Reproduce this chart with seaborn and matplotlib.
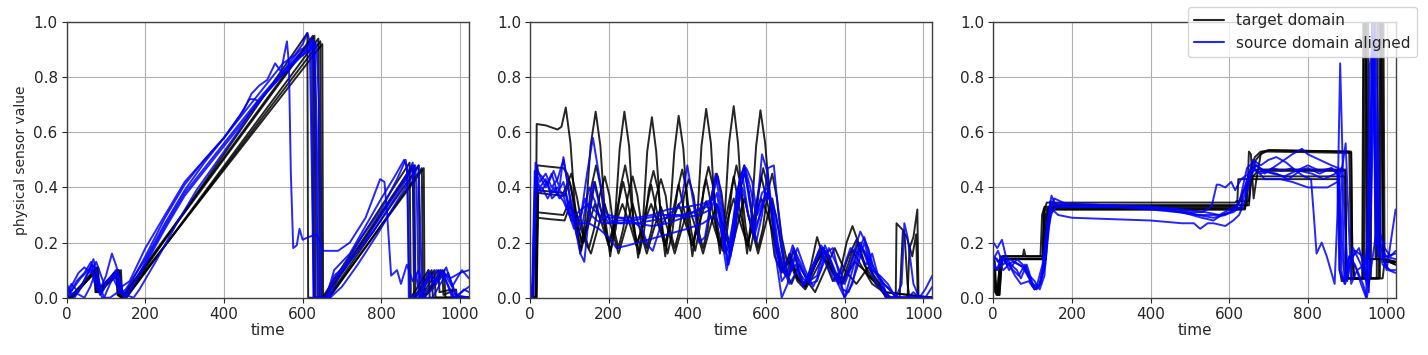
import matplotlib
matplotlib.use("Agg")
import matplotlib.pyplot as plt
from matplotlib.lines import Line2D
import pandas as pd
import seaborn as sns

# ---------------- data ----------------
legend_labels = ["target domain", "source domain aligned"]
x_ticks = [0, 200, 400, 600, 800, 1000]
y_ticks = [0.0, 0.2, 0.4, 0.6, 0.8, 1.0]

# panel 1 : target domain
p1_target_x = [
    [0, 8, 76, 79, 133, 136, 148, 612, 614, 650, 872, 875, 920, 923, 1023],
    [0, 12, 72, 75, 128, 131, 141, 630, 633, 658, 884, 887, 935, 938, 1023],
    [0, 15, 80, 83, 138, 141, 152, 640, 643, 664, 895, 898, 945, 948, 980, 983, 1023],
    [0, 10, 78, 81, 135, 138, 150, 645, 648, 668, 903, 906, 955, 958, 990, 993, 1023],
    [0, 14, 74, 77, 131, 134, 146, 650, 652, 666, 908, 910, 960, 963, 1023],
    [0, 6, 70, 73, 126, 129, 139, 626, 629, 654, 880, 883, 928, 931, 1023],
]
p1_target_y = [
    [0.0, 0.0, 0.11, 0.02, 0.10, 0.01, 0.0, 0.96, 0.0, 0.0, 0.49, 0.0, 0.10, 0.0, 0.0],
    [0.0, 0.0, 0.10, 0.02, 0.10, 0.01, 0.0, 0.95, 0.0, 0.0, 0.48, 0.0, 0.10, 0.0, 0.0],
    [0.0, 0.0, 0.11, 0.02, 0.10, 0.01, 0.0, 0.94, 0.0, 0.0, 0.48, 0.0, 0.10, 0.02, 0.03, 0.0, 0.0],
    [0.0, 0.0, 0.10, 0.02, 0.09, 0.01, 0.0, 0.93, 0.0, 0.0, 0.47, 0.0, 0.10, 0.01, 0.03, 0.0, 0.0],
    [0.0, 0.0, 0.10, 0.02, 0.10, 0.01, 0.0, 0.92, 0.0, 0.0, 0.47, 0.0, 0.10, 0.0, 0.0],
    [0.0, 0.0, 0.09, 0.02, 0.09, 0.01, 0.0, 0.95, 0.0, 0.0, 0.48, 0.0, 0.10, 0.0, 0.0],
]
# panel 1 : source domain aligned
p1_source_x = [
    [0, 10, 25, 45, 62, 70, 85, 100, 115, 125, 140, 160, 200, 250, 300, 350, 400, 450, 470, 490,
     510, 530, 545, 553, 560, 565, 570, 576, 585, 592, 600, 615, 635, 645, 652, 690, 720, 760, 797, 808,
     815, 825, 840, 850, 865, 880, 895, 910, 930, 950, 975, 1000, 1023],
    [0, 15, 35, 55, 65, 75, 90, 110, 125, 140, 150, 200, 250, 300, 350, 400, 450, 500, 550, 580,
     600, 612, 618, 624, 628, 660, 670, 700, 750, 800, 840, 862, 866, 870, 900, 920, 940, 960, 980, 1000, 1023],
    [0, 20, 40, 55, 68, 80, 95, 110, 130, 145, 160, 200, 250, 300, 350, 400, 450, 500, 550, 590,
     610, 625, 632, 638, 665, 680, 720, 760, 800, 840, 870, 880, 885, 900, 920, 945, 965, 990, 1010, 1023],
    [0, 12, 30, 50, 60, 72, 85, 105, 120, 135, 150, 200, 250, 300, 350, 400, 450, 500, 550, 600,
     620, 630, 636, 640, 668, 690, 730, 780, 820, 860, 886, 890, 895, 930, 950, 970, 990, 1023],
    [0, 20, 45, 60, 70, 90, 110, 130, 150, 170, 185, 230, 280, 330, 380, 430, 480, 530, 580, 620,
     635, 642, 647, 670, 700, 740, 790, 840, 875, 895, 900, 905, 930, 960, 980, 1005, 1023],
    [0, 15, 30, 45, 60, 75, 95, 115, 135, 150, 200, 250, 300, 350, 400, 440, 465, 478, 490, 510,
     540, 570, 595, 610, 622, 628, 660, 680, 720, 760, 800, 830, 858, 866, 872, 900, 920, 935, 950, 965,
     985, 1023],
]
p1_source_y = [
    [0.05, 0.02, 0.06, 0.09, 0.13, 0.08, 0.03, 0.08, 0.16, 0.12, 0.04, 0.06, 0.18, 0.30, 0.42, 0.50, 0.58, 0.68, 0.74, 0.77,
     0.79, 0.85, 0.82, 0.88, 0.93, 0.85, 0.45, 0.18, 0.19, 0.25, 0.21, 0.22, 0.23, 0.20, 0.17, 0.17, 0.20, 0.29, 0.43, 0.42,
     0.30, 0.08, 0.10, 0.05, 0.12, 0.06, 0.10, 0.02, 0.05, 0.10, 0.07, 0.09, 0.10],
    [0.0, 0.03, 0.07, 0.10, 0.12, 0.10, 0.02, 0.07, 0.10, 0.02, 0.03, 0.14, 0.27, 0.39, 0.49, 0.58, 0.67, 0.76, 0.85, 0.88,
     0.92, 0.96, 0.93, 0.40, 0.0, 0.0, 0.05, 0.10, 0.22, 0.32, 0.43, 0.50, 0.45, 0.0, 0.02, 0.06, 0.10, 0.08, 0.0, 0.0, 0.0],
    [0.03, 0.0, 0.05, 0.09, 0.14, 0.06, 0.0, 0.05, 0.10, 0.0, 0.02, 0.13, 0.26, 0.38, 0.47, 0.56, 0.65, 0.74, 0.82, 0.88,
     0.90, 0.94, 0.80, 0.0, 0.0, 0.08, 0.13, 0.21, 0.30, 0.39, 0.46, 0.49, 0.10, 0.0, 0.08, 0.06, 0.11, 0.0, 0.03, 0.02],
    [0.02, 0.05, 0.02, 0.08, 0.11, 0.05, 0.01, 0.06, 0.09, 0.03, 0.0, 0.12, 0.25, 0.37, 0.46, 0.55, 0.64, 0.73, 0.81, 0.88,
     0.91, 0.93, 0.60, 0.0, 0.0, 0.07, 0.15, 0.24, 0.33, 0.42, 0.48, 0.40, 0.0, 0.0, 0.05, 0.09, 0.01, 0.0],
    [0.0, 0.02, 0.0, 0.04, 0.08, 0.0, 0.0, 0.02, 0.01, 0.0, 0.03, 0.14, 0.27, 0.39, 0.49, 0.59, 0.70, 0.78, 0.86, 0.90,
     0.92, 0.70, 0.0, 0.0, 0.04, 0.12, 0.23, 0.35, 0.43, 0.48, 0.20, 0.0, 0.03, 0.09, 0.04, 0.10, 0.07],
    [0.0, 0.05, 0.09, 0.11, 0.09, 0.13, 0.05, 0.08, 0.02, 0.02, 0.15, 0.29, 0.41, 0.50, 0.58, 0.66, 0.72, 0.72, 0.71, 0.75,
     0.80, 0.86, 0.90, 0.91, 0.93, 0.0, 0.0, 0.10, 0.16, 0.26, 0.36, 0.43, 0.50, 0.47, 0.0, 0.0, 0.10, 0.05, 0.10, 0.06,
     0.0, 0.04],
]

# panel 2 : target domain
p2_target_x = [
    [0, 14, 17, 40, 70, 80, 91, 103, 116, 128, 141, 154, 167, 179, 191, 204, 216, 228, 240, 252,
     263, 275, 287, 298, 310, 321, 333, 344, 355, 367, 378, 390, 402, 413, 425, 436, 448, 460, 471, 483,
     495, 506, 518, 529, 541, 552, 563, 575, 586, 598, 610, 622, 635, 650, 665, 680, 700, 715, 730, 745,
     770, 790, 805, 820, 835, 860, 890, 905, 930, 932, 945, 952, 960, 965, 1023],
    [0, 15, 19, 50, 85, 95, 105, 118, 130, 142, 155, 168, 180, 192, 205, 218, 230, 242, 254, 266,
     278, 290, 302, 314, 326, 338, 350, 362, 375, 387, 398, 409, 420, 431, 442, 454, 466, 478, 490, 502,
     514, 525, 537, 549, 560, 571, 582, 593, 605, 617, 630, 645, 660, 680, 700, 720, 740, 760, 785, 810,
     830, 850, 880, 900, 915, 960, 965, 975, 985, 988, 1023],
    [0, 16, 20, 50, 85, 105, 120, 135, 150, 163, 177, 190, 202, 213, 225, 237, 249, 261, 273, 285,
     297, 309, 321, 333, 345, 356, 368, 380, 392, 404, 416, 428, 440, 452, 463, 475, 487, 498, 510, 522,
     533, 545, 557, 568, 580, 592, 604, 616, 628, 640, 655, 670, 690, 705, 725, 745, 770, 795, 815, 835,
     855, 875, 895, 910, 940, 948, 958, 972, 982, 986, 1023],
    [0, 14, 18, 50, 85, 100, 117, 135, 150, 165, 182, 200, 218, 235, 253, 270, 290, 308, 325, 343,
     360, 378, 395, 413, 430, 448, 465, 483, 500, 518, 535, 553, 570, 588, 605, 620, 640, 660, 680, 700,
     720, 745, 775, 800, 825, 850, 880, 900, 1023],
    [0, 15, 19, 50, 88, 100, 120, 138, 155, 172, 190, 208, 225, 243, 261, 279, 297, 315, 333, 350,
     368, 386, 404, 422, 440, 457, 475, 492, 510, 527, 545, 562, 580, 598, 616, 632, 648, 665, 685, 705,
     725, 750, 775, 800, 830, 860, 885, 905, 1023],
    [0, 17, 21, 50, 88, 100, 115, 130, 148, 165, 183, 200, 218, 237, 255, 272, 290, 308, 326, 343,
     360, 378, 396, 413, 430, 448, 466, 483, 500, 518, 536, 553, 570, 588, 606, 622, 640, 660, 680, 700,
     725, 750, 770, 795, 820, 845, 870, 890, 910, 1023],
]
p2_target_y = [
    [0.0, 0.0, 0.63, 0.625, 0.61, 0.62, 0.69, 0.56, 0.29, 0.16, 0.29, 0.55, 0.675, 0.55, 0.29, 0.15, 0.28, 0.54, 0.675, 0.55,
     0.28, 0.145, 0.27, 0.53, 0.655, 0.53, 0.28, 0.15, 0.28, 0.53, 0.66, 0.54, 0.28, 0.15, 0.28, 0.55, 0.685, 0.56, 0.29, 0.16,
     0.29, 0.56, 0.695, 0.56, 0.29, 0.16, 0.29, 0.55, 0.68, 0.56, 0.35, 0.20, 0.12, 0.08, 0.14, 0.08, 0.04, 0.12, 0.22, 0.15,
     0.06, 0.10, 0.20, 0.26, 0.20, 0.08, 0.04, 0.0, 0.0, 0.27, 0.25, 0.24, 0.05, 0.0, 0.0],
    [0.0, 0.0, 0.48, 0.475, 0.47, 0.45, 0.40, 0.25, 0.17, 0.245, 0.395, 0.48, 0.40, 0.25, 0.17, 0.25, 0.40, 0.48, 0.39, 0.24,
     0.16, 0.24, 0.39, 0.46, 0.39, 0.24, 0.16, 0.24, 0.39, 0.465, 0.39, 0.25, 0.17, 0.25, 0.40, 0.475, 0.40, 0.25, 0.17, 0.25,
     0.40, 0.48, 0.40, 0.25, 0.17, 0.25, 0.39, 0.47, 0.40, 0.30, 0.18, 0.10, 0.16, 0.07, 0.04, 0.10, 0.16, 0.12, 0.05, 0.15,
     0.21, 0.12, 0.05, 0.03, 0.0, 0.0, 0.18, 0.22, 0.32, 0.0, 0.0],
    [0.0, 0.0, 0.39, 0.385, 0.38, 0.45, 0.36, 0.24, 0.18, 0.25, 0.37, 0.44, 0.37, 0.25, 0.18, 0.25, 0.37, 0.44, 0.37, 0.245,
     0.18, 0.245, 0.37, 0.43, 0.37, 0.245, 0.18, 0.245, 0.37, 0.43, 0.37, 0.245, 0.18, 0.25, 0.38, 0.45, 0.38, 0.25, 0.18, 0.25,
     0.38, 0.455, 0.38, 0.25, 0.18, 0.25, 0.38, 0.45, 0.36, 0.22, 0.12, 0.17, 0.06, 0.05, 0.12, 0.18, 0.09, 0.05, 0.12, 0.20,
     0.15, 0.07, 0.04, 0.0, 0.0, 0.24, 0.22, 0.15, 0.23, 0.0, 0.0],
    [0.0, 0.0, 0.31, 0.305, 0.30, 0.35, 0.27, 0.20, 0.27, 0.34, 0.27, 0.19, 0.27, 0.34, 0.27, 0.19, 0.27, 0.34, 0.27, 0.19,
     0.27, 0.34, 0.27, 0.19, 0.27, 0.35, 0.27, 0.19, 0.27, 0.36, 0.27, 0.19, 0.28, 0.36, 0.30, 0.22, 0.10, 0.13, 0.06, 0.03,
     0.08, 0.15, 0.08, 0.07, 0.13, 0.10, 0.05, 0.02, 0.0],
    [0.0, 0.0, 0.29, 0.285, 0.28, 0.33, 0.30, 0.21, 0.16, 0.25, 0.34, 0.25, 0.16, 0.25, 0.34, 0.25, 0.16, 0.25, 0.33, 0.25,
     0.16, 0.25, 0.33, 0.25, 0.16, 0.25, 0.34, 0.25, 0.16, 0.26, 0.36, 0.26, 0.16, 0.26, 0.36, 0.25, 0.10, 0.05, 0.12, 0.06,
     0.02, 0.10, 0.18, 0.10, 0.05, 0.11, 0.06, 0.02, 0.0],
    [0.0, 0.0, 0.38, 0.375, 0.37, 0.42, 0.33, 0.20, 0.28, 0.42, 0.30, 0.19, 0.30, 0.42, 0.30, 0.19, 0.29, 0.41, 0.29, 0.19,
     0.29, 0.41, 0.29, 0.19, 0.30, 0.43, 0.30, 0.19, 0.30, 0.44, 0.30, 0.19, 0.30, 0.44, 0.33, 0.15, 0.09, 0.15, 0.07, 0.04,
     0.12, 0.17, 0.10, 0.06, 0.17, 0.11, 0.05, 0.03, 0.0, 0.0],
]
# panel 2 : source domain aligned
p2_source_x = [
    [0, 5, 12, 25, 40, 55, 70, 85, 100, 115, 130, 145, 160, 175, 190, 205, 230, 270, 310, 350,
     400, 440, 460, 478, 492, 505, 520, 535, 545, 558, 572, 590, 605, 620, 640, 660, 675, 695, 715, 740,
     760, 780, 800, 820, 840, 860, 880, 900, 920, 1023],
    [0, 6, 14, 25, 40, 55, 70, 85, 100, 115, 128, 138, 150, 162, 180, 200, 230, 260, 285, 300,
     312, 330, 350, 370, 385, 400, 415, 430, 445, 460, 472, 488, 502, 518, 532, 545, 560, 575, 590, 605,
     620, 632, 650, 668, 690, 710, 730, 750, 775, 795, 810, 830, 850, 870, 890, 910, 930, 945, 952, 960,
     975, 990, 1005, 1023],
    [0, 7, 15, 30, 45, 60, 75, 90, 105, 125, 150, 175, 200, 220, 250, 300, 350, 400, 440, 470,
     485, 500, 515, 530, 545, 560, 575, 590, 605, 620, 640, 660, 680, 700, 720, 740, 760, 780, 800, 820,
     840, 860, 875, 890, 905, 1023],
    [0, 6, 14, 25, 40, 55, 70, 85, 100, 115, 130, 150, 175, 200, 230, 270, 310, 350, 400, 440,
     465, 480, 495, 510, 525, 540, 555, 570, 585, 600, 615, 625, 640, 655, 670, 690, 710, 730, 750, 770,
     790, 800, 810, 830, 850, 870, 890, 900, 910, 1023],
    [0, 8, 16, 28, 42, 56, 70, 85, 100, 112, 125, 140, 155, 170, 185, 200, 225, 260, 300, 340,
     380, 420, 450, 465, 480, 495, 510, 525, 540, 555, 568, 580, 595, 610, 625, 640, 655, 675, 695, 715,
     735, 755, 775, 795, 815, 835, 855, 870, 885, 900, 915, 930, 1023],
    [0, 7, 15, 30, 45, 60, 75, 85, 95, 108, 120, 135, 150, 165, 180, 200, 230, 270, 310, 350,
     390, 430, 460, 475, 490, 505, 520, 535, 550, 565, 578, 592, 605, 618, 630, 645, 660, 680, 700, 720,
     740, 760, 780, 800, 820, 840, 855, 870, 885, 900, 920, 940, 960, 975, 990, 1005, 1023],
]
p2_source_y = [
    [0.05, 0.0, 0.46, 0.42, 0.45, 0.40, 0.43, 0.50, 0.38, 0.28, 0.30, 0.45, 0.58, 0.45, 0.32, 0.28, 0.27, 0.27, 0.28, 0.29,
     0.30, 0.33, 0.35, 0.44, 0.30, 0.19, 0.30, 0.44, 0.47, 0.35, 0.25, 0.52, 0.45, 0.25, 0.10, 0.08, 0.15, 0.05, 0.08, 0.18,
     0.15, 0.07, 0.05, 0.12, 0.20, 0.12, 0.05, 0.02, 0.0, 0.0],
    [0.03, 0.0, 0.49, 0.44, 0.40, 0.45, 0.38, 0.42, 0.33, 0.25, 0.16, 0.13, 0.30, 0.42, 0.32, 0.27, 0.27, 0.28, 0.25, 0.19,
     0.17, 0.25, 0.30, 0.32, 0.35, 0.48, 0.35, 0.20, 0.22, 0.35, 0.45, 0.30, 0.12, 0.25, 0.42, 0.48, 0.35, 0.20, 0.30, 0.47,
     0.48, 0.30, 0.10, 0.19, 0.10, 0.06, 0.08, 0.19, 0.10, 0.03, 0.02, 0.10, 0.20, 0.10, 0.08, 0.05, 0.0, 0.05, 0.27, 0.22,
     0.05, 0.0, 0.03, 0.08],
    [0.0, 0.0, 0.38, 0.40, 0.36, 0.40, 0.36, 0.38, 0.28, 0.27, 0.27, 0.25, 0.22, 0.18, 0.19, 0.21, 0.23, 0.25, 0.27, 0.30,
     0.25, 0.10, 0.20, 0.40, 0.48, 0.40, 0.30, 0.38, 0.40, 0.25, 0.06, 0.10, 0.18, 0.10, 0.04, 0.10, 0.18, 0.12, 0.06, 0.15,
     0.24, 0.18, 0.10, 0.06, 0.0, 0.0],
    [0.04, 0.0, 0.44, 0.40, 0.43, 0.38, 0.40, 0.37, 0.30, 0.30, 0.32, 0.34, 0.30, 0.29, 0.29, 0.29, 0.30, 0.32, 0.33, 0.34,
     0.36, 0.30, 0.16, 0.20, 0.38, 0.45, 0.30, 0.22, 0.30, 0.38, 0.34, 0.15, 0.0, 0.05, 0.18, 0.12, 0.05, 0.06, 0.16, 0.18,
     0.06, 0.0, 0.05, 0.15, 0.22, 0.12, 0.07, 0.04, 0.0, 0.0],
    [0.0, 0.0, 0.42, 0.38, 0.42, 0.36, 0.38, 0.35, 0.30, 0.25, 0.27, 0.36, 0.30, 0.28, 0.27, 0.27, 0.28, 0.28, 0.29, 0.30,
     0.30, 0.31, 0.33, 0.36, 0.32, 0.20, 0.15, 0.30, 0.40, 0.30, 0.24, 0.28, 0.35, 0.37, 0.30, 0.18, 0.08, 0.12, 0.04, 0.10,
     0.17, 0.12, 0.06, 0.10, 0.18, 0.16, 0.12, 0.16, 0.08, 0.05, 0.03, 0.0, 0.0],
    [0.05, 0.0, 0.46, 0.44, 0.41, 0.46, 0.40, 0.51, 0.42, 0.30, 0.22, 0.28, 0.40, 0.35, 0.28, 0.30, 0.29, 0.27, 0.26, 0.27,
     0.29, 0.30, 0.32, 0.38, 0.25, 0.12, 0.22, 0.40, 0.47, 0.42, 0.30, 0.35, 0.38, 0.33, 0.20, 0.10, 0.05, 0.10, 0.06, 0.12,
     0.19, 0.15, 0.06, 0.0, 0.05, 0.19, 0.16, 0.10, 0.08, 0.05, 0.02, 0.0, 0.0, 0.02, 0.0, 0.0, 0.04],
]

# panel 3 : target domain
p3_target_x = [
    [0, 4, 8, 16, 22, 26, 75, 78, 82, 130, 134, 140, 160, 645, 650, 655, 662, 668, 680, 700,
     905, 908, 912, 975, 978, 986, 990, 1000, 1023],
    [0, 6, 12, 20, 25, 120, 124, 130, 145, 620, 623, 648, 655, 665, 680, 700,
     910, 913, 918, 938, 941, 947, 951, 990, 995, 1023],
    [0, 5, 15, 22, 30, 125, 128, 136, 150, 640, 644, 652, 660, 675, 700,
     895, 897, 902, 980, 983, 989, 992, 1023],
    [0, 8, 14, 22, 30, 132, 136, 142, 160, 630, 634, 650, 660, 672, 690,
     895, 898, 903, 944, 947, 953, 956, 990, 1023],
    [0, 5, 10, 18, 25, 128, 132, 138, 150, 640, 643, 648, 655, 665, 680,
     878, 881, 886, 900, 940, 943, 949, 952, 990, 1023],
    [0, 6, 12, 20, 28, 126, 130, 136, 150, 615, 618, 650, 655, 668, 685, 700,
     910, 913, 918, 983, 986, 992, 995, 1023],
    [0, 4, 10, 18, 26, 134, 138, 144, 160, 650, 654, 660, 670, 690,
     895, 898, 903, 960, 963, 969, 972, 990, 1023],
]
p3_target_y = [
    [0.14, 0.13, 0.01, 0.01, 0.14, 0.15, 0.15, 0.175, 0.15, 0.15, 0.25, 0.32, 0.335, 0.335, 0.53, 0.52, 0.36, 0.42, 0.52, 0.535,
     0.53, 0.30, 0.07, 0.07, 1.05, 1.05, 0.14, 0.14, 0.13],
    [0.14, 0.03, 0.01, 0.13, 0.15, 0.15, 0.30, 0.33, 0.33, 0.33, 0.43, 0.43, 0.47, 0.51, 0.53, 0.53,
     0.525, 0.15, 0.07, 0.07, 1.05, 1.05, 0.07, 0.07, 0.13, 0.13],
    [0.12, 0.02, 0.01, 0.14, 0.14, 0.14, 0.31, 0.325, 0.325, 0.325, 0.40, 0.44, 0.46, 0.465, 0.465,
     0.465, 0.10, 0.07, 0.07, 1.05, 1.05, 0.13, 0.13],
    [0.13, 0.02, 0.02, 0.14, 0.14, 0.14, 0.30, 0.32, 0.32, 0.32, 0.38, 0.42, 0.44, 0.44, 0.44,
     0.44, 0.10, 0.07, 0.07, 1.05, 1.05, 0.14, 0.14, 0.12],
    [0.13, 0.02, 0.01, 0.15, 0.15, 0.15, 0.30, 0.32, 0.32, 0.32, 0.36, 0.42, 0.43, 0.43, 0.43,
     0.43, 0.10, 0.06, 0.07, 0.07, 1.05, 1.05, 0.14, 0.14, 0.13],
    [0.14, 0.04, 0.02, 0.14, 0.14, 0.14, 0.32, 0.345, 0.345, 0.345, 0.35, 0.35, 0.45, 0.50, 0.53, 0.535,
     0.53, 0.15, 0.07, 0.07, 1.05, 1.05, 0.13, 0.13],
    [0.13, 0.03, 0.02, 0.14, 0.14, 0.14, 0.30, 0.335, 0.335, 0.335, 0.40, 0.44, 0.455, 0.46,
     0.46, 0.10, 0.07, 0.07, 1.05, 1.05, 0.14, 0.14, 0.12],
]
# panel 3 : source domain aligned
p3_source_x = [
    [0, 10, 22, 32, 45, 60, 70, 85, 100, 110, 120, 130, 140, 148, 160, 200, 300, 400, 480, 530,
     555, 568, 575, 590, 605, 615, 630, 650, 670, 690, 710, 735, 760, 790, 808, 815, 822, 835, 848, 858,
     868, 875, 882, 890, 900, 915, 930, 945, 955, 960, 965, 972, 1000, 1023],
    [0, 10, 25, 40, 55, 70, 90, 105, 115, 128, 140, 150, 165, 200, 300, 400, 480, 510, 526, 545,
     560, 590, 610, 625, 640, 655, 665, 690, 730, 760, 800, 850, 875, 888, 896, 903, 910, 925, 940, 950,
     960, 975, 990, 1005, 1023],
    [0, 12, 25, 40, 55, 75, 95, 108, 120, 132, 145, 160, 200, 300, 400, 470, 520, 545, 580, 610,
     630, 648, 660, 680, 700, 720, 745, 770, 800, 830, 860, 880, 888, 895, 905, 920, 940, 955, 965, 975,
     990, 1010, 1023],
    [0, 10, 25, 35, 50, 65, 80, 95, 105, 118, 132, 145, 160, 200, 300, 400, 480, 530, 560, 580,
     600, 620, 640, 655, 680, 710, 740, 760, 785, 800, 830, 860, 878, 885, 893, 905, 920, 935, 948, 958,
     968, 980, 995, 1010, 1023],
    [0, 8, 20, 35, 50, 65, 80, 92, 105, 118, 130, 142, 155, 200, 300, 400, 480, 540, 575, 600,
     625, 645, 660, 685, 710, 740, 770, 800, 830, 860, 875, 880, 890, 905, 925, 945, 960, 972, 985, 1000,
     1023],
    [0, 12, 25, 40, 60, 75, 90, 100, 112, 125, 138, 150, 165, 200, 300, 400, 470, 520, 560, 590,
     615, 635, 650, 668, 690, 720, 750, 780, 810, 840, 870, 885, 893, 900, 915, 935, 950, 965, 978, 995,
     1023],
]
p3_source_y = [
    [0.20, 0.18, 0.21, 0.15, 0.12, 0.10, 0.07, 0.12, 0.05, 0.03, 0.05, 0.15, 0.30, 0.37, 0.33, 0.33, 0.33, 0.33, 0.31, 0.31,
     0.33, 0.41, 0.41, 0.40, 0.42, 0.39, 0.43, 0.45, 0.48, 0.45, 0.47, 0.46, 0.47, 0.44, 0.43, 0.30, 0.16, 0.20, 0.15, 0.10,
     0.05, 0.30, 0.85, 0.40, 0.10, 0.15, 0.18, 0.10, 0.05, 0.60, 1.0, 0.20, 0.15, 0.16],
    [0.15, 0.14, 0.10, 0.12, 0.08, 0.05, 0.06, 0.03, 0.04, 0.10, 0.25, 0.32, 0.30, 0.29, 0.285, 0.28, 0.27, 0.27, 0.25, 0.27,
     0.27, 0.26, 0.28, 0.30, 0.35, 0.44, 0.47, 0.43, 0.43, 0.42, 0.40, 0.40, 0.42, 0.48, 0.56, 0.30, 0.05, 0.10, 0.05, 0.0,
     0.10, 0.25, 0.15, 0.10, 0.09],
    [0.14, 0.17, 0.12, 0.14, 0.13, 0.11, 0.06, 0.04, 0.05, 0.12, 0.30, 0.33, 0.34, 0.335, 0.33, 0.32, 0.30, 0.30, 0.30, 0.31,
     0.33, 0.42, 0.50, 0.48, 0.50, 0.51, 0.49, 0.46, 0.47, 0.45, 0.47, 0.44, 0.15, 0.05, 0.12, 0.17, 0.15, 0.02, 0.90, 0.20,
     0.12, 0.10, 0.10],
    [0.13, 0.10, 0.14, 0.12, 0.13, 0.12, 0.11, 0.06, 0.03, 0.05, 0.15, 0.35, 0.34, 0.34, 0.335, 0.325, 0.31, 0.29, 0.28, 0.30,
     0.31, 0.33, 0.40, 0.47, 0.45, 0.47, 0.50, 0.52, 0.54, 0.52, 0.50, 0.48, 0.47, 0.10, 0.05, 0.15, 0.12, 0.05, 0.0, 0.85,
     0.95, 0.25, 0.18, 0.15, 0.17],
    [0.12, 0.10, 0.14, 0.13, 0.10, 0.08, 0.12, 0.08, 0.06, 0.03, 0.08, 0.30, 0.36, 0.33, 0.33, 0.33, 0.32, 0.31, 0.30, 0.32,
     0.34, 0.47, 0.49, 0.46, 0.45, 0.44, 0.46, 0.48, 0.46, 0.47, 0.45, 0.10, 0.06, 0.15, 0.10, 0.12, 0.30, 1.0, 0.20, 0.10,
     0.32],
    [0.15, 0.13, 0.15, 0.10, 0.14, 0.12, 0.08, 0.04, 0.05, 0.12, 0.28, 0.34, 0.33, 0.33, 0.33, 0.32, 0.31, 0.30, 0.29, 0.30,
     0.32, 0.38, 0.45, 0.48, 0.46, 0.45, 0.43, 0.46, 0.45, 0.43, 0.45, 0.47, 0.10, 0.06, 0.18, 0.12, 0.05, 0.95, 0.15, 0.15,
     0.14],
]

# ---------------- figure ----------------
sns.set_style("whitegrid", {
    "axes.edgecolor": "0.25",
    "grid.color": "#b0b0b0",
    "xtick.bottom": True,
    "ytick.left": True,
    "xtick.color": "0.15",
    "ytick.color": "0.15",
})
plt.rcParams["font.family"] = ["DejaVu Sans"]

fig = plt.figure(figsize=(14.28, 3.55), dpi=100)
W, H = 1428.0, 355.0
lefts = [66.7, 530.0, 993.3]
axes = [fig.add_axes([l / W, 1 - 297.7 / H, 402.3 / W, 275.7 / H]) for l in lefts]

palette = {legend_labels[0]: "black", legend_labels[1]: "blue"}
panels = [
    (p1_target_x, p1_target_y, p1_source_x, p1_source_y),
    (p2_target_x, p2_target_y, p2_source_x, p2_source_y),
    (p3_target_x, p3_target_y, p3_source_x, p3_source_y),
]

for i, (ax, (tx, ty, sx, sy)) in enumerate(zip(axes, panels)):
    frames = []
    for domain, xs, ys in ((legend_labels[0], tx, ty), (legend_labels[1], sx, sy)):
        for j, (x, y) in enumerate(zip(xs, ys)):
            frames.append(pd.DataFrame({"time": x, "value": y,
                                        "domain": domain, "run": f"{domain}-{j}"}))
    df = pd.concat(frames, ignore_index=True)
    sns.lineplot(data=df, x="time", y="value", hue="domain", units="run",
                 estimator=None, sort=False, hue_order=legend_labels,
                 palette=palette, linewidth=1.4, alpha=0.85, legend=False, ax=ax)
    ax.set_xlim(0, 1023)
    ax.set_ylim(0, 1.0)
    ax.set_xticks(x_ticks)
    ax.set_yticks(y_ticks)
    ax.set_yticklabels([f"{v:.1f}" for v in y_ticks])
    ax.tick_params(axis="both", labelsize=11, length=3.5, width=0.8, pad=3)
    ax.set_xlabel("time", fontsize=11, labelpad=1)
    ax.set_ylabel("")
    for s in ax.spines.values():
        s.set_linewidth(1.0)

axes[0].set_ylabel("physical sensor value", fontsize=10, labelpad=4)

handles = [Line2D([0], [0], color="black", lw=1.5, alpha=0.85),
           Line2D([0], [0], color="blue", lw=1.5, alpha=0.85)]
leg = axes[2].legend(handles, legend_labels, loc="upper right",
                     bbox_to_anchor=(1417 / W, 1 - 7 / H), bbox_transform=fig.transFigure,
                     fontsize=11, frameon=True, framealpha=0.8, borderaxespad=0.0,
                     handlelength=2.0)
leg.get_frame().set_edgecolor("0.8")

fig.savefig("out.png", dpi=100)
